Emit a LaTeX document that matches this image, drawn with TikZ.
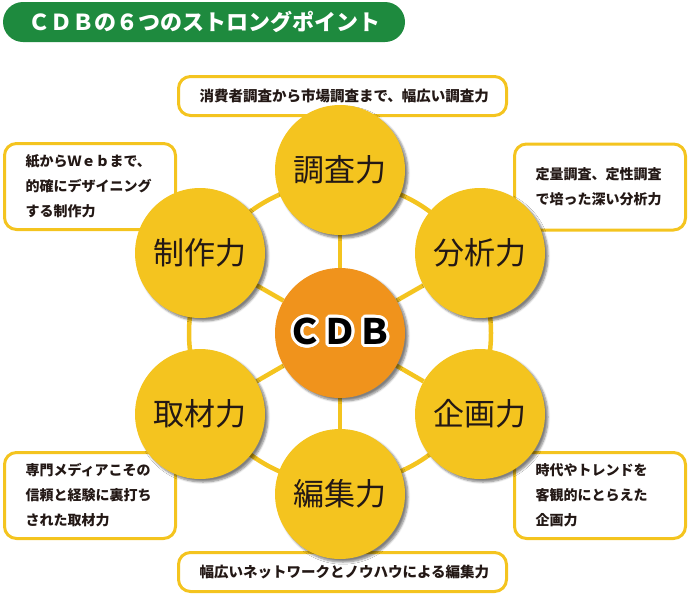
\documentclass[tikz,border=0pt]{standalone}
\usepackage{fontspec}
\setmainfont{Noto Sans CJK JP}
\usepackage{contour}
\usetikzlibrary{shadows.blur,backgrounds}

\definecolor{cdbyellow}{HTML}{F4C41F}
\definecolor{cdborange}{HTML}{F0931C}
\definecolor{cdbgreen}{HTML}{1E8A3E}
\definecolor{cdbtext}{HTML}{231815}

\contourlength{2.8pt}
\contournumber{24}

\tikzset{
  point/.style={circle, fill=cdbyellow, minimum size=130pt, inner sep=0pt,
    font=\fontsize{31}{31}\selectfont, text=cdbtext,
    blur shadow={shadow xshift=3pt, shadow yshift=-3pt, shadow blur steps=6, shadow opacity=50}},
  core/.style={point, fill=cdborange, text=black, font=\bfseries\fontsize{35}{35}\selectfont},
  note/.style={draw=cdbyellow, line width=3pt, rounded corners=12pt, fill=white,
    inner xsep=21pt, inner ysep=0pt, text width=129pt, minimum height=86pt,
    align=left, text=cdbtext, font=\bfseries\fontsize{14}{25}\selectfont},
  wide note/.style={note, text width=286pt, minimum height=39pt, align=center,
    font=\bfseries\fontsize{14.5}{25}\selectfont},
  link/.style={cdbyellow, line width=4.5pt},
}

\begin{document}
\begin{tikzpicture}[x=1pt,y=-1pt]
  \useasboundingbox (0,0) rectangle (690,600);

  % title
  \node[fill=cdbgreen, rounded corners=20pt, minimum width=402pt, minimum height=40pt,
    text=white, font=\bfseries\fontsize{22}{22}\selectfont] (title) at (204,22)
    {ＣＤＢの６つのストロングポイント};

  % notes
  \node[wide note] (n-research) at (342.5,96) {消費者調査から市場調査まで、幅広い調査力};
  \node[note] (n-production) at (90,186.5) {紙からＷｅｂまで、\\的確にデザイニング\\する制作力};
  \node[note] (n-analysis) at (600,187) {定量調査、定性調査\\で培った深い分析力};
  \node[note] (n-covering) at (90,495.5) {専門メディアこその\\信頼と経験に裏打ち\\された取材力};
  \node[note] (n-planning) at (600,495.5) {時代やトレンドを\\客観的にとらえた\\企画力};
  \node[wide note] (n-editing) at (342.5,572) {幅広いネットワークとノウハウによる編集力};

  % points
  \node[core] (cdb) at (340,333) {\contour{white}{ＣＤＢ}};
  \node[point] (research) at (340,170) {調査力};
  \node[point] (analysis) at (480,253) {分析力};
  \node[point] (planning) at (480,414) {企画力};
  \node[point] (editing) at (340,494) {編集力};
  \node[point] (covering) at (200,414) {取材力};
  \node[point] (production) at (200,253) {制作力};

  % ring and spokes
  \begin{scope}[on background layer]
    \draw[link] (cdb.center) circle (151);
    \foreach \p in {research,analysis,planning,editing,covering,production}
      \draw[link] (cdb) -- (\p);
  \end{scope}
\end{tikzpicture}
\end{document}
